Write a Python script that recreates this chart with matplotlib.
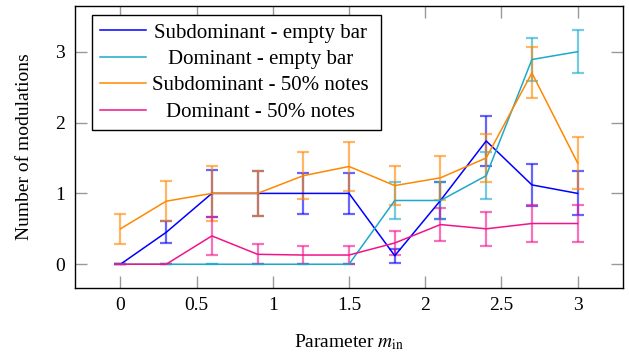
import matplotlib
matplotlib.use('Agg')
import matplotlib.pyplot as plt
from matplotlib.colors import to_rgba
from matplotlib.lines import Line2D

# ---- data ----
x = [0, 0.3, 0.6, 0.9, 1.2, 1.5, 1.8, 2.1, 2.4, 2.7, 3.0]
sub_empty = [0, 0.45, 1.0, 1.0, 1.0, 1.0, 0.12, 0.9, 1.74, 1.12, 1.0]
sub_empty_err = [0, 0.155, 0.33, 0.32, 0.29, 0.29, 0.1, 0.26, 0.355, 0.3, 0.31]
dom_empty = [0, 0, 0, 0, 0, 0, 0.9, 0.9, 1.25, 2.89, 3.0]
dom_empty_err = [0, 0, 0, 0, 0, 0, 0.26, 0.26, 0.33, 0.3, 0.305]
sub_half = [0.5, 0.89, 1.0, 1.0, 1.25, 1.38, 1.11, 1.22, 1.5, 2.7, 1.43]
sub_half_err = [0.21, 0.28, 0.39, 0.32, 0.33, 0.34, 0.28, 0.31, 0.345, 0.36, 0.37]
dom_half = [0, 0, 0.4, 0.14, 0.13, 0.13, 0.30, 0.56, 0.5, 0.575, 0.575]
dom_half_err = [0, 0, 0.27, 0.14, 0.125, 0.125, 0.17, 0.23, 0.24, 0.265, 0.265]

labels = ["Subdominant - empty bar", "Dominant - empty bar",
          "Subdominant - 50% notes", "Dominant - 50% notes"]
colors = ["#0000ff", "#1ba9cc", "#ff8800", "#f0148c"]
xticks = [0, 0.5, 1, 1.5, 2, 2.5, 3]
xticklabels = ["0", "0.5", "1", "1.5", "2", "2.5", "3"]
yticks = [0, 1, 2, 3]
yticklabels = ["0", "1", "2", "3"]

plt.rcParams['font.family'] = 'serif'
plt.rcParams['font.serif'] = ['Liberation Serif', 'DejaVu Serif']
plt.rcParams['mathtext.fontset'] = 'stix'

fig = plt.figure(figsize=(6.29, 3.58), dpi=100)
ax = fig.add_axes([0.1188, 0.1964, 0.8722, 0.786])

series = [(sub_empty, sub_empty_err), (dom_empty, dom_empty_err),
          (sub_half, sub_half_err), (dom_half, dom_half_err)]
for (vals, errs), c, lab in zip(series, colors, labels):
    ax.errorbar(x, vals, yerr=errs, color=c, lw=1.1, label=lab,
                ecolor=to_rgba(c, 0.6), elinewidth=1.6, capsize=4.5, capthick=1.6)

ax.set_xlim(-0.3, 3.3)
ax.set_ylim(-0.331, 3.641)
ax.set_xticks(xticks)
ax.set_xticklabels(xticklabels)
ax.set_yticks(yticks)
ax.set_yticklabels(yticklabels)
ax.tick_params(direction='in', length=8.4, width=1.0, color='#999999',
               top=True, right=True, labelsize=14, pad=7)
for s in ax.spines.values():
    s.set_linewidth(1.0)
    s.set_color('black')

ax.set_xlabel(r"Parameter $m_{\mathrm{in}}$", fontsize=14, labelpad=13)
ax.set_ylabel("Number of modulations", fontsize=14, labelpad=16)

lh = [Line2D([], [], color=c, lw=1.1) for c in colors]
leg = ax.legend(lh, labels, loc='upper left', bbox_to_anchor=(0.0315, 0.531, 0.526, 0.438),
                mode='expand', borderaxespad=0, fontsize=15, fancybox=False,
                framealpha=1, edgecolor='black', handlelength=2.2, handletextpad=0.32,
                labelspacing=0.33, borderpad=0.38)
leg.get_frame().set_linewidth(1.0)

fig.canvas.draw()
texts = leg.get_texts()
r = fig.canvas.get_renderer()
ws = [t.get_window_extent(r).width for t in texts]
mw = max(ws)
for t, w in zip(texts, ws):
    t.set_x((mw - w) / 2)

fig.savefig("out.png", dpi=100)
